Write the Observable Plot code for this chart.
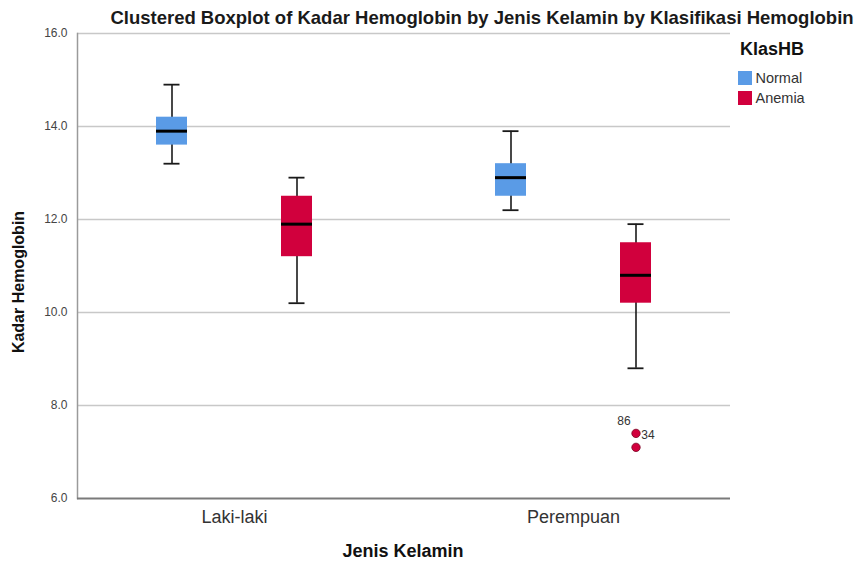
<!DOCTYPE html>
<html>
<head>
<meta charset="utf-8">
<script src="https://cdn.jsdelivr.net/npm/d3@7"></script>
<script src="https://cdn.jsdelivr.net/npm/@observablehq/plot@0.6"></script>
<style>
  html, body { margin: 0; padding: 0; background: #fff; }
  #wrap { position: relative; width: 855px; height: 563px; font-family: "Liberation Sans", Arial, sans-serif; overflow: hidden; }
  #bg, #fg { position: absolute; left: 0; top: 0; }
  #title { position: absolute; left: 482px; top: 7px; transform: translateX(-50%); white-space: nowrap; font-size: 18.5px; font-weight: bold; color: #1a1a1a; line-height: 22px; }
  #ytitle { position: absolute; left: 19px; top: 282px; transform: translate(-50%, -50%) rotate(-90deg); white-space: nowrap; font-size: 16px; font-weight: bold; color: #111; }
  #xtitle { position: absolute; left: 403px; top: 540px; transform: translateX(-50%); white-space: nowrap; font-size: 18px; font-weight: bold; color: #111; line-height: 22px; }
  #legend { position: absolute; left: 738px; top: 38px; }
  #legend .lt { font-size: 18px; font-weight: bold; color: #111; line-height: 22px; margin-bottom: 8px; margin-left: 2px; }
  #legend .row { display: flex; align-items: center; height: 20px; font-size: 14.5px; color: #333; }
  #legend .sw { width: 13.5px; height: 13.5px; margin-right: 4px; }
</style>
</head>
<body>
<div id="wrap">
  <div id="bg"></div>
  <div id="fg"></div>
  <div id="title"></div>
  <div id="ytitle"></div>
  <div id="xtitle"></div>
  <div id="legend"></div>
</div>
<script>
// ---- Data ----
const chartTitle = "Clustered Boxplot of Kadar Hemoglobin by Jenis Kelamin by Klasifikasi Hemoglobin";
const yTitle = "Kadar Hemoglobin";
const xTitle = "Jenis Kelamin";
const legendTitle = "KlasHB";

const genderCategories = ["Laki-laki", "Perempuan"];
const hbCategories = ["Normal", "Anemia"];
const hbColors = ["#5A9BE6", "#D1003D"];
const yTicks = [6, 8, 10, 12, 14, 16];

const boxGender = ["Laki-laki", "Laki-laki", "Perempuan", "Perempuan"];
const boxHB = ["Normal", "Anemia", "Normal", "Anemia"];
const whiskerLow = [13.2, 10.2, 12.2, 8.8];
const q1 = [13.6, 11.2, 12.5, 10.2];
const median = [13.9, 11.9, 12.9, 10.8];
const q3 = [14.2, 12.5, 13.2, 11.5];
const whiskerHigh = [14.9, 12.9, 13.9, 11.9];

const outlierGender = ["Perempuan", "Perempuan"];
const outlierHB = ["Anemia", "Anemia"];
const outlierValue = [7.4, 7.1];

const caseLabels = ["86", "34"];
const caseValue = [7.4, 7.4];

// ---- Tables built from the arrays ----
const boxes = boxGender.map((g, i) => ({
  jk: g, hb: boxHB[i], lo: whiskerLow[i], q1: q1[i], med: median[i], q3: q3[i], hi: whiskerHigh[i]
}));
const outliers = outlierValue.map((v, i) => ({ jk: outlierGender[i], hb: outlierHB[i], v }));
const labels = caseLabels.map((c, i) => ({ jk: "Perempuan", hb: "Anemia", v: caseValue[i], c }));

const common = {
  width: 855,
  height: 563,
  marginLeft: 77,
  marginRight: 125,
  marginTop: 33,
  marginBottom: 65,
  style: { fontFamily: "Liberation Sans, Arial, sans-serif", background: "transparent" }
};

// Background layer: grid, frame and axes
const bg = Plot.plot({
  ...common,
  x: { type: "band", domain: genderCategories, paddingInner: 0.075, paddingOuter: 0, label: null },
  y: { domain: [6, 16], label: null },
  marks: [
    Plot.ruleY(yTicks.filter(d => d > 6), { stroke: "#c8c8c8", strokeWidth: 1.6 }),
    Plot.frame({ anchor: "left", stroke: "#9a9a9a", strokeWidth: 1.5 }),
    Plot.ruleY([6], { stroke: "#7a7a7a", strokeWidth: 1.8 }),
    Plot.axisY({ ticks: yTicks, tickFormat: d => d.toFixed(1), tickSize: 0, tickPadding: 10, fontSize: 12, fill: "#444", label: null }),
    Plot.axisX({ tickSize: 0, tickPadding: 12, fontSize: 18, fill: "#333", label: null })
  ]
});
document.getElementById("bg").appendChild(bg);

// Foreground layer: clustered boxes, faceted by Jenis Kelamin
const fg = Plot.plot({
  ...common,
  fx: { domain: genderCategories, paddingInner: 0.075, paddingOuter: 0, axis: null, label: null },
  x: { domain: hbCategories, paddingInner: 0.753, paddingOuter: 0.626, axis: null },
  y: { domain: [6, 16], axis: null, label: null },
  color: { domain: hbCategories, range: hbColors },
  marks: [
    Plot.ruleX(boxes, { fx: "jk", x: "hb", y1: "lo", y2: "hi", stroke: "#1a1a1a", strokeWidth: 1.6 }),
    Plot.tickY(boxes, { fx: "jk", x: "hb", y: "lo", stroke: "#1a1a1a", strokeWidth: 1.8, insetLeft: 7.5, insetRight: 7.5 }),
    Plot.tickY(boxes, { fx: "jk", x: "hb", y: "hi", stroke: "#1a1a1a", strokeWidth: 1.8, insetLeft: 7.5, insetRight: 7.5 }),
    Plot.barY(boxes, { fx: "jk", x: "hb", y1: "q1", y2: "q3", fill: "hb" }),
    Plot.tickY(boxes, { fx: "jk", x: "hb", y: "med", stroke: "#000", strokeWidth: 3 }),
    Plot.dot(outliers, { fx: "jk", x: "hb", y: "v", r: 4.2, fill: hbColors[1], stroke: "#7a0022", strokeWidth: 0.8 }),
    Plot.text(labels.filter((d, i) => i === 0), { fx: "jk", x: "hb", y: "v", text: "c", dx: -12, dy: -12, fontSize: 12, fill: "#333" }),
    Plot.text(labels.filter((d, i) => i === 1), { fx: "jk", x: "hb", y: "v", text: "c", dx: 12, dy: 1.5, fontSize: 12, fill: "#333" })
  ]
});
document.getElementById("fg").appendChild(fg);

document.getElementById("title").textContent = chartTitle;
document.getElementById("ytitle").textContent = yTitle;
document.getElementById("xtitle").textContent = xTitle;
const legend = document.getElementById("legend");
const lt = document.createElement("div");
lt.className = "lt";
lt.textContent = legendTitle;
legend.appendChild(lt);
hbCategories.forEach((c, i) => {
  const row = document.createElement("div");
  row.className = "row";
  const sw = document.createElement("div");
  sw.className = "sw";
  sw.style.background = hbColors[i];
  row.appendChild(sw);
  const t = document.createElement("span");
  t.textContent = c;
  row.appendChild(t);
  legend.appendChild(row);
});
</script>
</body>
</html>
